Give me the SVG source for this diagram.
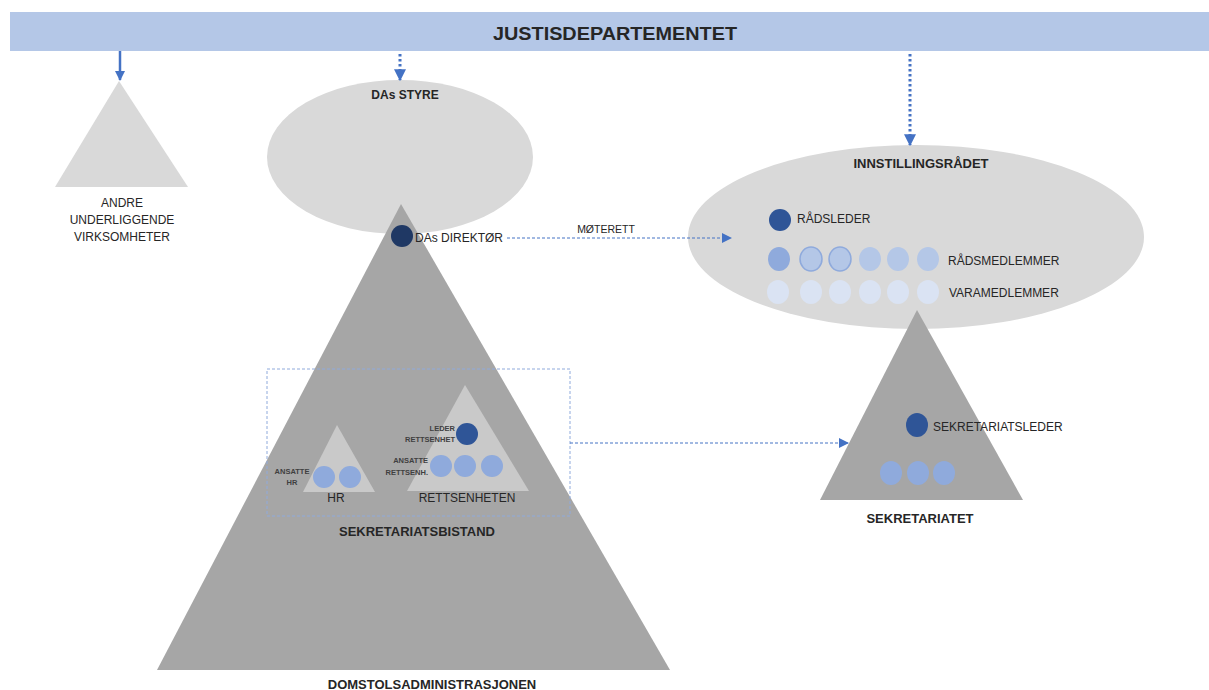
<svg xmlns="http://www.w3.org/2000/svg" width="1209" height="690" viewBox="0 0 1209 690">
<style>
text{font-family:"Liberation Sans",Arial,sans-serif;fill:#262626}
.b{font-weight:bold}
.c{text-anchor:middle}
.e{text-anchor:end}
.lg{fill:#d9d9d9}
.dg{fill:#a6a6a6}
.sm{fill:#c9c9c9}
.lead{fill:#2f5597}
.mem{fill:#8faadc}
.mem2{fill:#b4c7e7}
.var{fill:#dae3f3}
.tiny{font-size:7.5px;font-weight:bold;fill:#404040}
.dot{stroke:#4472c4;stroke-width:3;stroke-dasharray:2.5 2.5;fill:none}
.thin{stroke:#4472c4;stroke-width:1;stroke-dasharray:3 2;fill:none}
</style>
<defs>
<marker id="ah" viewBox="0 0 10 10" refX="9" refY="5" markerWidth="4" markerHeight="4" orient="auto" markerUnits="strokeWidth"><path d="M0,0L10,5L0,10z" fill="#4472c4"/></marker>
<marker id="ah2" viewBox="0 0 10 10" refX="9" refY="5" markerWidth="10" markerHeight="10" orient="auto" markerUnits="strokeWidth"><path d="M0,0L10,5L0,10z" fill="#4472c4"/></marker>
</defs>
<rect width="1209" height="690" fill="#ffffff"/>

<g id="justisdepartementet">
<rect x="10" y="12" width="1199" height="39" fill="#b4c7e7"/>
<text x="615" y="40" class="b c" font-size="18" textLength="244" lengthAdjust="spacingAndGlyphs">JUSTISDEPARTEMENTET</text>
</g>

<g id="andre">
<polygon points="119,81 55,187 188,187" class="lg"/>
<text x="122" y="207" class="c" font-size="12">ANDRE</text>
<text x="122" y="224" class="c" font-size="12">UNDERLIGGENDE</text>
<text x="122" y="241" class="c" font-size="12">VIRKSOMHETER</text>
</g>

<g id="das-styre">
<ellipse cx="400" cy="157" rx="133" ry="77" class="lg"/>
<text x="405" y="99" class="b c" font-size="12">DAs STYRE</text>
</g>

<g id="domstolsadministrasjonen">
<polygon points="401,204 157,670 670,670" class="dg"/>
<text x="432" y="689" class="b c" font-size="13">DOMSTOLSADMINISTRASJONEN</text>
</g>

<g id="das-direktor">
<circle cx="402" cy="236" r="11" fill="#1f3864"/>
<text x="415" y="242" font-size="12">DAs DIREKTØR</text>
</g>

<g id="sekretariatsbistand">
<rect x="267" y="369" width="303" height="147" fill="none" stroke="#8faadc" stroke-width="1" stroke-dasharray="3 2"/>
<text x="417" y="536" class="b c" font-size="13">SEKRETARIATSBISTAND</text>
</g>

<g id="hr">
<polygon points="337,425 303,492 375,492" class="sm"/>
<circle cx="324" cy="477" r="11" class="mem"/>
<circle cx="350" cy="477" r="11" class="mem"/>
<text x="292" y="474" class="c tiny">ANSATTE</text>
<text x="292" y="485" class="c tiny">HR</text>
<text x="336" y="502" class="c" font-size="12">HR</text>
</g>

<g id="rettsenheten">
<polygon points="465,385 407,491 529,491" class="sm"/>
<circle cx="467" cy="434" r="11" class="lead"/>
<text x="455" y="431" class="e tiny">LEDER</text>
<text x="455" y="442" class="e tiny">RETTSENHET</text>
<circle cx="441" cy="466" r="11" class="mem"/>
<circle cx="465" cy="466" r="11" class="mem"/>
<circle cx="492" cy="466" r="11" class="mem"/>
<text x="428" y="463" class="e tiny">ANSATTE</text>
<text x="428" y="475" class="e tiny">RETTSENH.</text>
<text x="467" y="502" class="c" font-size="12">RETTSENHETEN</text>
</g>

<g id="innstillingsradet">
<ellipse cx="916" cy="237" rx="228" ry="92" class="lg"/>
<text x="921" y="168" class="b c" font-size="13">INNSTILLINGSRÅDET</text>
<circle cx="780" cy="220" r="11" class="lead"/>
<text x="797" y="223" font-size="12">RÅDSLEDER</text>
<ellipse cx="779" cy="259" rx="11" ry="12" class="mem"/>
<ellipse cx="811" cy="259" rx="11" ry="12" class="mem2" stroke="#8faadc" stroke-width="1.5"/>
<ellipse cx="840" cy="259" rx="11" ry="12" class="mem2" stroke="#8faadc" stroke-width="1.5"/>
<ellipse cx="870" cy="259" rx="11" ry="12" class="mem2"/>
<ellipse cx="898" cy="259" rx="11" ry="12" class="mem2"/>
<ellipse cx="928" cy="259" rx="11" ry="12" class="mem2"/>
<text x="948" y="265" font-size="12">RÅDSMEDLEMMER</text>
<ellipse cx="778" cy="292" rx="11" ry="12" class="var"/>
<ellipse cx="811" cy="292" rx="11" ry="12" class="var"/>
<ellipse cx="840" cy="292" rx="11" ry="12" class="var"/>
<ellipse cx="870" cy="292" rx="11" ry="12" class="var"/>
<ellipse cx="898" cy="292" rx="11" ry="12" class="var"/>
<ellipse cx="928" cy="292" rx="11" ry="12" class="var"/>
<text x="949" y="297" font-size="12">VARAMEDLEMMER</text>
</g>

<g id="sekretariatet">
<polygon points="917,310 820,500 1023,500" class="dg"/>
<ellipse cx="917" cy="425" rx="11" ry="12" class="lead"/>
<text x="933" y="431" font-size="12">SEKRETARIATSLEDER</text>
<ellipse cx="891" cy="473" rx="11" ry="12" class="mem"/>
<ellipse cx="918" cy="473" rx="11" ry="12" class="mem"/>
<ellipse cx="944" cy="473" rx="11" ry="12" class="mem"/>
<text x="920" y="523" class="b c" font-size="13">SEKRETARIATET</text>
</g>

<g id="connectors">
<line x1="120" y1="51" x2="120" y2="80" stroke="#4472c4" stroke-width="2.5" marker-end="url(#ah)"/>
<line x1="400" y1="54" x2="400" y2="80" class="dot" marker-end="url(#ah)"/>
<line x1="910" y1="54" x2="910" y2="145" class="dot" marker-end="url(#ah)"/>
<line x1="507" y1="238" x2="731" y2="238" class="thin" marker-end="url(#ah2)"/>
<text x="606" y="233" class="c" font-size="10.5">MØTERETT</text>
<line x1="570" y1="443" x2="848" y2="443" class="thin" marker-end="url(#ah2)"/>
</g>
</svg>
